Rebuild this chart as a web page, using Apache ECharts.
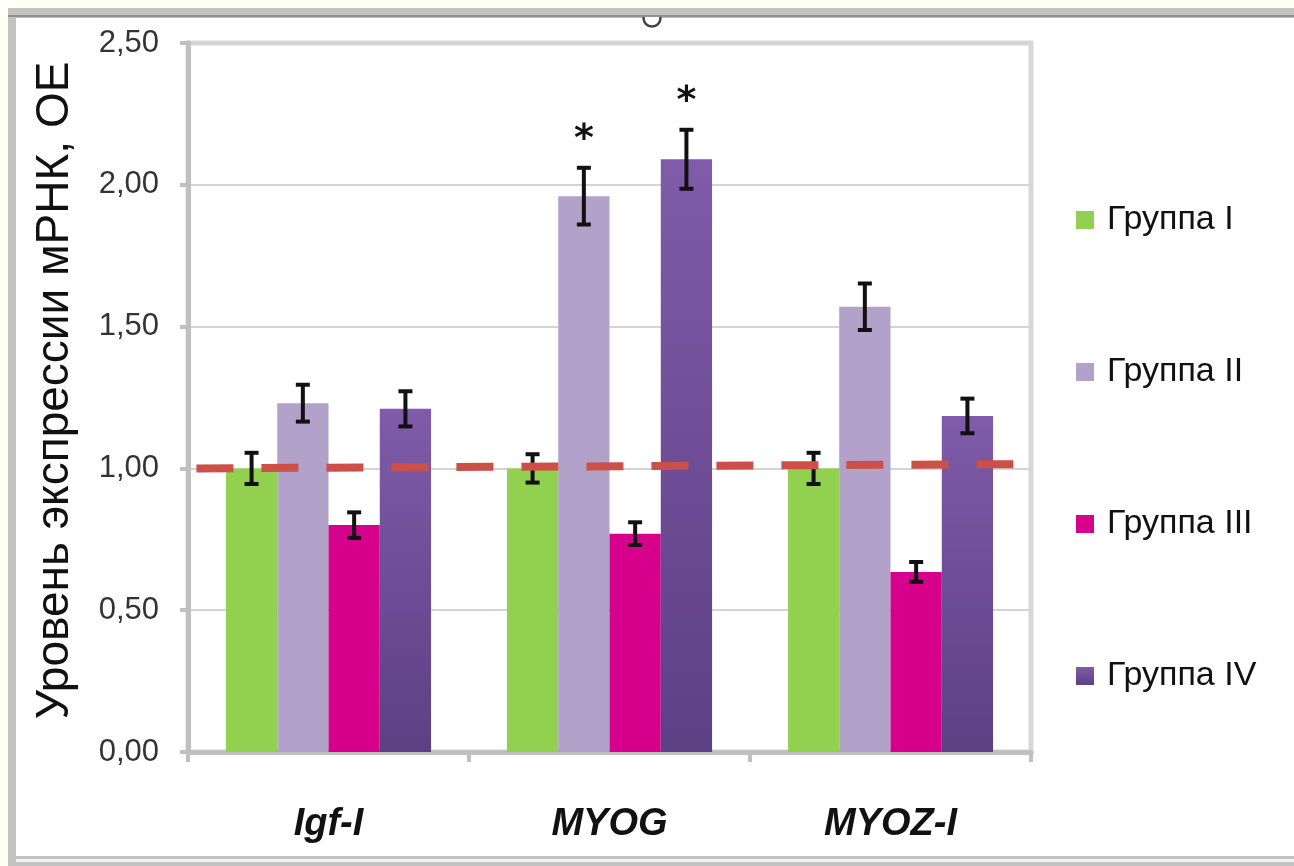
<!DOCTYPE html>
<html><head><meta charset="utf-8">
<script src="https://cdn.jsdelivr.net/npm/echarts@6/dist/echarts.min.js"></script>
<style>html,body{margin:0;padding:0;background:#fffff6;}#c{width:1294px;height:866px;}</style>
</head><body><div id="c"></div>
<script>
var categories = ['Igf-I', 'MYOG', 'MYOZ-I'];
var groupNames = ['Группа I', 'Группа II', 'Группа III', 'Группа IV'];
var valuesI   = [1.00, 1.00, 1.00];
var valuesII  = [1.23, 1.96, 1.57];
var valuesIII = [0.80, 0.77, 0.635];
var valuesIV  = [1.21, 2.09, 1.185];
var errI   = [0.055, 0.05, 0.055];
var errII  = [0.065, 0.10, 0.082];
var errIII = [0.045, 0.04, 0.035];
var errIV  = [0.062, 0.104, 0.061];
var sigI   = ['', '', ''];
var sigII  = ['', '*', ''];
var sigIII = ['', '', ''];
var sigIV  = ['', '*', ''];
var yTicks = [0, 0.5, 1.0, 1.5, 2.0, 2.5];
var refLine = [[0.01, 1.00], [0.982, 1.015]];

var allValues = [valuesI, valuesII, valuesIII, valuesIV];
var allErr = [errI, errII, errIII, errIV];
var allSig = [sigI, sigII, sigIII, sigIV];
var catGap = 0.27;

var colors = [
  '#92d050',
  '#b2a2c9',
  '#d6008d',
  new echarts.graphic.LinearGradient(0, 0, 0, 1, [{offset: 0, color: '#7f5ba9'}, {offset: 1, color: '#5d4083'}])
];

var series = [];
groupNames.forEach(function (name, gi) {
  series.push({
    name: name, type: 'bar', xAxisIndex: 0, yAxisIndex: 0,
    data: allValues[gi], barGap: '0%', barCategoryGap: (catGap * 100) + '%',
    itemStyle: {color: colors[gi]}, z: 2
  });
});
groupNames.forEach(function (name, gi) {
  series.push({
    type: 'custom', xAxisIndex: 0, yAxisIndex: 0, z: 5,
    data: categories.map(function (c, ci) { return [ci, allValues[gi][ci], allErr[gi][ci]]; }),
    renderItem: function (params, api) {
      var ci = api.value(0), v = api.value(1), e = api.value(2);
      var catW = api.size([1, 0])[0];
      var barW = catW * (1 - catGap) / 4;
      var off = (gi - 1.5) * barW;
      var top = api.coord([ci, v + e]);
      var bot = api.coord([ci, v - e]);
      var x = top[0] + off;
      var cap = 7;
      var st = {stroke: '#111', lineWidth: 4};
      var children = [
        {type: 'line', shape: {x1: x, y1: top[1], x2: x, y2: bot[1]}, style: st},
        {type: 'line', shape: {x1: x - cap, y1: top[1], x2: x + cap, y2: top[1]}, style: st},
        {type: 'line', shape: {x1: x - cap, y1: bot[1], x2: x + cap, y2: bot[1]}, style: st}
      ];
      var s = allSig[gi][ci];
      if (s) {
        children.push({type: 'text', x: x, y: top[1] - 28, style: {text: s, fontSize: 38, fontWeight: 'bold', fontFamily: 'DejaVu Sans', fill: '#111', align: 'center', verticalAlign: 'middle'}});
      }
      return {type: 'group', children: children};
    }
  });
});
series.push({
  type: 'line', xAxisIndex: 1, yAxisIndex: 0, data: refLine, symbol: 'none', z: 6,
  lineStyle: {color: '#cc4f48', width: 8, type: [37, 28]}, silent: true
});

var chart = echarts.init(document.getElementById('c'), null, {renderer: 'canvas'});
chart.setOption({
  animation: false,
  backgroundColor: 'transparent',
  graphic: [
    {type: 'rect', z: -10, shape: {x: 8, y: 8, width: 1300, height: 870}, style: {fill: '#c2c2c2'}},
    {type: 'rect', z: -9, shape: {x: 16, y: 18, width: 1290, height: 838}, style: {fill: '#ffffff'}},
    {type: 'rect', z: -8, shape: {x: 16, y: 859, width: 1290, height: 3}, style: {fill: '#f4f4f4'}},
    {type: 'circle', z: -7, shape: {cx: 652, cy: 18, r: 8.5}, style: {fill: '#ffffff', stroke: '#444', lineWidth: 2.5}},
    {type: 'rect', z: -6, shape: {x: 8, y: 8, width: 1300, height: 8}, style: {fill: '#c2c2c2'}},
    {type: 'rect', z: -5, shape: {x: 8, y: 15, width: 1300, height: 2}, style: {fill: '#909090'}}
  ],
  grid: {left: 188, right: 263, top: 43, bottom: 114, show: true, borderColor: '#d8d8d8', borderWidth: 5, backgroundColor: 'transparent'},
  legend: {
    orient: 'vertical', left: 1071, top: 198, itemWidth: 18, itemHeight: 18, itemGap: 118,
    icon: 'rect', data: groupNames,
    textStyle: {fontFamily: 'Liberation Sans', fontSize: 34, color: '#111', padding: [0, 0, 0, 8]}
  },
  xAxis: [{
    type: 'category', data: categories,
    axisLine: {lineStyle: {color: '#c0c0c0', width: 5}},
    axisTick: {show: true, length: 10, lineStyle: {color: '#c0c0c0', width: 4}},
    axisLabel: {margin: 54, fontFamily: 'Liberation Sans', fontSize: 38, fontWeight: 'bold', fontStyle: 'italic', color: '#111'}
  }, {
    type: 'value', min: 0, max: 1, show: false
  }],
  yAxis: {
    type: 'value', min: yTicks[0], max: yTicks[yTicks.length - 1], interval: 0.5,
    name: 'Уровень экспрессии мРНК, ОЕ', nameLocation: 'middle', nameGap: 110, nameRotate: 90,
    nameTextStyle: {fontFamily: 'Liberation Sans', fontSize: 46, color: '#111', padding: [0, 0, 0, 14]},
    axisLine: {show: true, lineStyle: {color: '#c0c0c0', width: 5}},
    axisTick: {show: true, length: 8, lineStyle: {color: '#c0c0c0', width: 4}},
    axisLabel: {margin: 29, fontFamily: 'Liberation Sans', fontSize: 31, color: '#333',
      formatter: function (v) { return v.toFixed(2).replace('.', ','); }},
    splitLine: {show: true, lineStyle: {color: '#d4d4d4', width: 2}}
  },
  series: series
});
</script></body></html>
